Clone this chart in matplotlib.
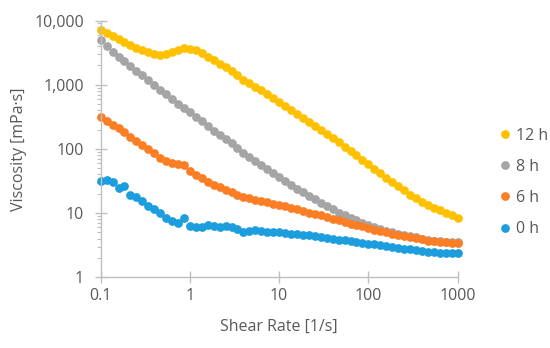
import matplotlib
matplotlib.use("Agg")
import matplotlib.pyplot as plt
from matplotlib.ticker import FixedLocator, LogLocator, NullFormatter
from matplotlib.lines import Line2D

plt.rcParams['font.family'] = ['Open Sans', 'DejaVu Sans']

shear_rate = [0.1, 0.1166, 0.1359, 0.1585, 0.1848, 0.2154, 0.2512, 0.2929, 0.3415, 0.3981,
              0.4642, 0.5412, 0.6310, 0.7356, 0.8577,
              1.0, 1.166, 1.359, 1.585, 1.848, 2.154, 2.512, 2.929, 3.415, 3.981,
              4.642, 5.412, 6.310, 7.356, 8.577,
              10.0, 11.66, 13.59, 15.85, 18.48, 21.54, 25.12, 29.29, 34.15, 39.81,
              46.42, 54.12, 63.10, 73.56, 85.77,
              100.0, 116.6, 135.9, 158.5, 184.8, 215.4, 251.2, 292.9, 341.5, 398.1,
              464.2, 541.2, 631.0, 735.6, 857.7,
              1000.0]

visc_12h = [7240, 6460, 5750, 5130, 4570, 4170, 3800, 3510, 3240, 3060,
            2950, 2990, 3270, 3510, 3670, 3630, 3430, 3090, 2720, 2400,
            2140, 1880, 1620, 1410, 1200, 1060, 933, 822, 708, 617,
            531, 462, 407, 355, 305, 263, 226, 195, 170, 146,
            126, 108, 93.3, 79.4, 68.4, 57.5, 49.0, 41.7, 35.9, 30.9,
            26.3, 22.6, 19.5, 17.0, 15.0, 13.3, 12.2, 11.1, 10.1, 9.2,
            8.4]

visc_8h = [4900, 3980, 3240, 2720, 2320, 1970, 1660, 1410, 1190, 1000,
           841, 708, 596, 501, 432, 372, 320, 269, 226, 193,
           166, 143, 123, 104, 87.1, 74.1, 63.8, 55.6, 47.9, 41.7,
           36.3, 31.3, 27.5, 24.0, 21.1, 18.6, 16.4, 14.5, 12.7, 11.4,
           10.2, 9.2, 8.4, 7.7, 7.1, 6.6, 6.1, 5.7, 5.35, 5.0,
           4.8, 4.6, 4.4, 4.2, 4.0, 3.83, 3.73, 3.66, 3.6, 3.55,
           3.5]

visc_6h = [309, 269, 240, 214, 186, 151, 132, 115, 100, 85.1,
           72.4, 65.3, 61.0, 58.9, 56.2, 45.7, 38.9, 34.7, 30.9, 27.9,
           25.1, 23.2, 21.4, 19.5, 18.0, 17.0, 16.2, 15.7, 14.8, 14.1,
           13.4, 12.7, 12.0, 11.4, 10.8, 10.2, 9.7, 9.2, 8.7, 8.2,
           7.8, 7.2, 6.8, 6.5, 6.2, 5.8, 5.5, 5.25, 5.0, 4.8,
           4.6, 4.45, 4.25, 4.1, 3.9, 3.7, 3.65, 3.57, 3.5, 3.47,
           3.43]

visc_0h = [32.1, 32.9, 31.0, 24.4, 26.2, 19.2, 17.7, 15.7, 12.8, 11.4,
           10.1, 8.3, 7.6, 7.0, 8.3, 6.4, 6.1, 6.0, 6.6, 6.2,
           6.15, 6.4, 6.1, 5.7, 5.0, 5.3, 5.5, 5.2, 5.15, 5.15,
           5.0, 4.9, 4.8, 4.73, 4.62, 4.52, 4.41, 4.26, 4.1, 3.95,
           3.86, 3.78, 3.64, 3.56, 3.43, 3.35, 3.27, 3.19, 3.08, 2.97,
           2.86, 2.80, 2.73, 2.67, 2.57, 2.48, 2.45, 2.42, 2.42, 2.39,
           2.39]

series_labels = ["12 h", "8 h", "6 h", "0 h"]
series_colors = ["#FFC000", "#A5A5A5", "#FB7D24", "#1B9DDE"]

x_ticks = [0.1, 1, 10, 100, 1000]
x_tick_labels = ["0.1", "1", "10", "100", "1000"]
y_ticks = [1, 10, 100, 1000, 10000]
y_tick_labels = ["1", "10", "100", "1,000", "10,000"]

text_color = "#595959"
axis_color = "#BFBFBF"
fs = 11.5

fig = plt.figure(figsize=(5.5, 3.48), dpi=100)
ax = fig.add_axes([0.183, 0.203, 0.649, 0.738])

for vals, lab, col in zip([visc_12h, visc_8h, visc_6h, visc_0h], series_labels, series_colors):
    ax.plot(shear_rate, vals, linestyle='none', marker='o', markersize=6.3,
            markerfacecolor=col, markeredgecolor=col, markeredgewidth=0, label=lab,
            clip_on=False)

ax.set_xscale('log')
ax.set_yscale('log')
ax.set_xlim(0.1, 1000)
ax.set_ylim(1, 10000)

ax.xaxis.set_major_locator(FixedLocator(x_ticks))
ax.set_xticklabels(x_tick_labels)
ax.xaxis.set_minor_locator(FixedLocator([]))
ax.yaxis.set_major_locator(FixedLocator(y_ticks))
ax.set_yticklabels(y_tick_labels)
ax.yaxis.set_minor_locator(LogLocator(base=10, subs=range(2, 10)))
ax.yaxis.set_minor_formatter(NullFormatter())

for s in ['top', 'right']:
    ax.spines[s].set_visible(False)
for s in ['left', 'bottom']:
    ax.spines[s].set_color(axis_color)
    ax.spines[s].set_linewidth(1.0)

ax.tick_params(axis='both', which='major', direction='inout', length=8, width=1,
               color=axis_color, labelcolor=text_color, labelsize=fs)
ax.tick_params(axis='y', which='minor', direction='out', length=3, width=0.8, color=axis_color)
ax.tick_params(axis='x', which='major', pad=4)
ax.tick_params(axis='y', which='major', pad=8)

ax.set_xlabel("Shear Rate [1/s]", color=text_color, fontsize=fs, labelpad=10)
ax.set_ylabel("Viscosity [mPa·s]", color=text_color, fontsize=fs, labelpad=5.5)

handles = [Line2D([], [], linestyle='none', marker='o', markersize=6.3,
                  markerfacecolor=c, markeredgewidth=0) for c in series_colors]
fig.legend(handles, series_labels, loc='upper left', bbox_to_anchor=(0.906, 0.633),
           frameon=False, fontsize=fs, labelcolor=text_color, handletextpad=0.3,
           handlelength=0.8, labelspacing=0.95, borderpad=0, borderaxespad=0)

fig.savefig("out.png", dpi=100)
